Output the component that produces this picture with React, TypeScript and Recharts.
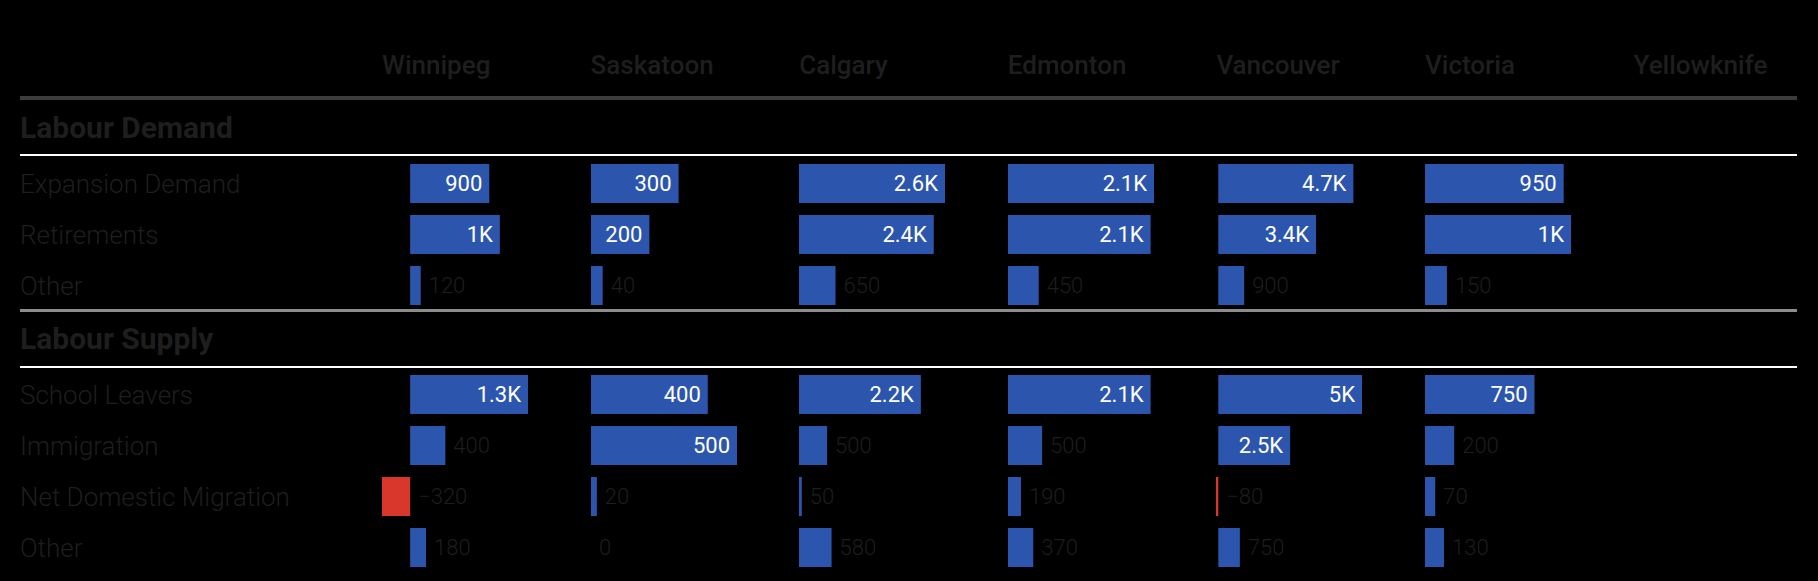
import React from 'react';
import { BarChart, Bar, XAxis, YAxis, Cell, LabelList } from 'recharts';

// ---------- data ----------
const cities = ['Winnipeg', 'Saskatoon', 'Calgary', 'Edmonton', 'Vancouver', 'Victoria', 'Yellowknife'];
const sectionTitles = ['Labour Demand', 'Labour Supply'];
const demandCategories = ['Expansion Demand', 'Retirements', 'Other'];
const supplyCategories = ['School Leavers', 'Immigration', 'Net Domestic Migration', 'Other'];

// one value per city, in the order of `cities` (Yellowknife has no data)
const expansionDemand = [900, 300, 2600, 2140, 4700, 950, null];
const retirements = [1020, 200, 2400, 2090, 3400, 1000, null];
const demandOther = [120, 40, 650, 450, 900, 150, null];
const schoolLeavers = [1340, 400, 2170, 2090, 5000, 750, null];
const immigration = [400, 500, 500, 500, 2500, 200, null];
const netDomesticMigration = [-320, 20, 50, 190, -80, 70, null];
const supplyOther = [180, 0, 580, 370, 750, 130, null];

const demandSeries = [expansionDemand, retirements, demandOther];
const supplySeries = [schoolLeavers, immigration, netDomesticMigration, supplyOther];

// ---------- layout / style ----------
const W = 1818;
const H = 581;
const LEFT = 20;
const RIGHT = 1797;
const FIRST_COL = 382;
const COL_STEP = 208.6;
const PLOT_W = 146;
const ROW_H = 51;
const BAR_H = 39;
const DEMAND_TOP = 157.5;
const SUPPLY_TOP = 368.5;
const BLUE = '#2c56ae';
const RED = '#d9372c';
const DIM = '#1e1e1e';
const FONT = 'Roboto, "Noto Sans", sans-serif';

const fmt = (v: number) => {
  const a = Math.abs(v);
  let s: string;
  if (a >= 1000) {
    const k = Math.round(a / 100) / 10;
    s = (Number.isInteger(k) ? k.toFixed(0) : k.toFixed(1)) + 'K';
  } else s = String(a);
  return v < 0 ? '\u2212' + s : s;
};

const ValueLabel = (props: any) => {
  const vb = props.viewBox || {};
  const x = props.x ?? vb.x;
  const y = props.y ?? vb.y;
  const width = props.width ?? vb.width ?? 0;
  const height = props.height ?? vb.height ?? 0;
  const value = props.value;
  if (value == null || x == null) return null;
  const left = Math.min(x, x + width);
  const right = Math.max(x, x + width);
  const text = fmt(Number(value));
  const tw = text.length * 11.5;
  const inside = value > 0 && right - left >= tw + 14;
  const cy = y + height / 2;
  if (inside) {
    return (
      <text x={right - 7} y={cy} textAnchor="end" dominantBaseline="central" fill="#ffffff" fontSize={22} fontFamily={FONT}>
        {text}
      </text>
    );
  }
  return (
    <text x={right + 8} y={cy} textAnchor="start" dominantBaseline="central" fill={DIM} fontSize={22} fontWeight={300} fontFamily={FONT}>
      {text}
    </text>
  );
};

const RowTick = (props: any) => {
  const { y, payload } = props;
  return (
    <text x={0} y={y} textAnchor="start" dominantBaseline="central" fill={DIM} fontSize={26} fontWeight={300} fontFamily={FONT}>
      {payload.value}
    </text>
  );
};

function SectionChart({ cityIndex, categories, series, top }: any) {
  const data = categories.map((name: string, r: number) => ({ name, value: series[r][cityIndex] }));
  const all = [...demandSeries, ...supplySeries].map((s) => s[cityIndex]).filter((v) => v != null) as number[];
  const lo = Math.min(0, ...all);
  const hi = Math.max(0, ...all);
  const showLabels = cityIndex === 0;
  const axisW = showLabels ? FIRST_COL - LEFT : 0;
  const left = showLabels ? LEFT : FIRST_COL + cityIndex * COL_STEP;
  const width = axisW + PLOT_W + 70;
  const height = categories.length * ROW_H;
  return (
    <div style={{ position: 'absolute', left, top, width, height }}>
      <BarChart
        layout="vertical"
        width={width}
        height={height}
        data={data}
        margin={{ top: 0, right: 70, bottom: 0, left: 0 }}
        barSize={BAR_H}
      >
        <XAxis type="number" domain={[lo, hi]} hide allowDataOverflow />
        <YAxis
          type="category"
          dataKey="name"
          hide={!showLabels}
          width={axisW}
          axisLine={false}
          tickLine={false}
          interval={0}
          tick={<RowTick />}
        />
        <Bar dataKey="value" isAnimationActive={false} minPointSize={0.01}>
          {data.map((d: any, k: number) => (
            <Cell key={k} fill={d.value < 0 ? RED : BLUE} />
          ))}
          <LabelList dataKey="value" content={<ValueLabel />} />
        </Bar>
      </BarChart>
    </div>
  );
}

const Line = ({ top, h, color }: any) => (
  <div style={{ position: 'absolute', left: LEFT, top, width: RIGHT - LEFT, height: h, background: color }} />
);

export default function App() {
  const dataCities = cities.map((_, i) => i).filter((i) => expansionDemand[i] != null);
  return (
    <div style={{ position: 'absolute', left: 0, top: 0, width: W, height: H, background: '#000', fontFamily: FONT, overflow: 'hidden' }}>
      {cities.map((c, i) => (
        <div
          key={c}
          style={{
            position: 'absolute',
            left: FIRST_COL + i * COL_STEP,
            top: 50,
            height: 30,
            lineHeight: '30px',
            fontSize: 26,
            fontWeight: 500,
            color: DIM,
            whiteSpace: 'nowrap',
          }}
        >
          {c}
        </div>
      ))}
      <Line top={96} h={4} color="#3c3c3c" />
      {sectionTitles.map((t, s) => (
        <div
          key={t}
          style={{
            position: 'absolute',
            left: LEFT,
            top: s === 0 ? 110 : 321,
            height: 36,
            lineHeight: '36px',
            fontSize: 30,
            fontWeight: 700,
            color: DIM,
            whiteSpace: 'nowrap',
          }}
        >
          {t}
        </div>
      ))}
      <Line top={154} h={2} color="#ffffff" />
      <Line top={309} h={3} color="#8c8c8c" />
      <Line top={366} h={2} color="#ffffff" />
      {dataCities.map((i) => (
        <SectionChart key={'d' + i} cityIndex={i} categories={demandCategories} series={demandSeries} top={DEMAND_TOP} />
      ))}
      {dataCities.map((i) => (
        <SectionChart key={'s' + i} cityIndex={i} categories={supplyCategories} series={supplySeries} top={SUPPLY_TOP} />
      ))}
    </div>
  );
}
